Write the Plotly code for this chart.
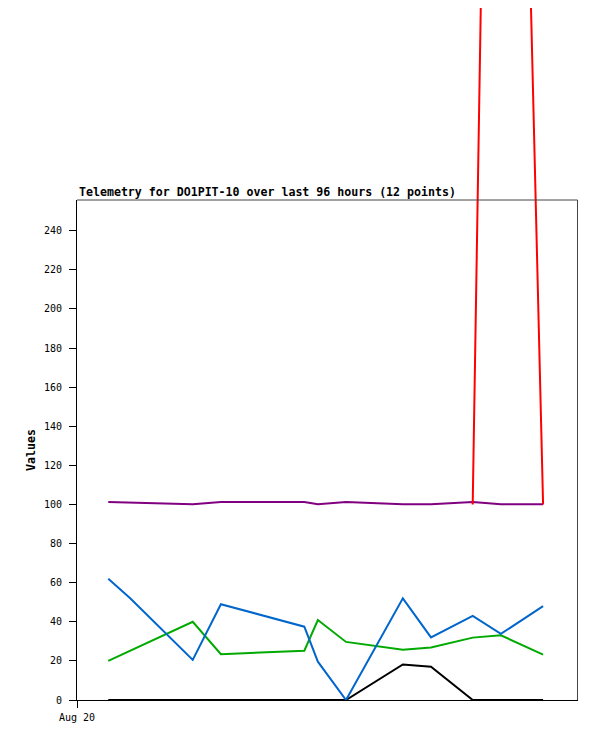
import plotly.graph_objects as go

# hours since Aug 20 00:00
hours = [6, 10.2, 22.2, 27.6, 43.6, 46.2, 51.6, 62.5, 67.9, 75.9, 81.3, 89.4]
purple = [101.3, 100.9, 100.1, 101.3, 101.3, 100.1, 101.2, 100.1, 100.1, 101.2, 100.1, 100.1]
blue = [62, 52, 20.5, 49, 37.5, 19.6, 0, 52, 32, 43, 33.8, 48]
green = [20, 25.1, 40, 23.4, 25.2, 40.9, 29.7, 25.7, 26.8, 31.9, 33.1, 23.2]
black = [0, 0, 0, 0, 0, 0, 0, 18.2, 17, 0, 0, 0]
red = [None, None, None, None, None, None, None, None, None, 100, 987, 100]

title = "Telemetry for DO1PIT-10 over last 96 hours (12 points)"
y_title = "Values"
y_ticks = [0, 20, 40, 60, 80, 100, 120, 140, 160, 180, 200, 220, 240]
x_tickvals = [0]
x_ticktext = ["Aug 20"]

# page has an 8px body margin; work in paper coordinates
O = 8
W, H = 597 - 2 * O, 741 - 2 * O
L, R, T, B = 77 - O, 577.5 - O, 200 - O, 700 - O
YMAX = 255.7
XMAX = 96
ppu = (B - T) / YMAX

FONT = "DejaVu Sans Mono"

fig = go.Figure()
fig.add_trace(go.Scatter(x=hours, y=red, mode="lines", line=dict(color="#ff0000", width=2),
                         xaxis="x2", yaxis="y2", connectgaps=False, hoverinfo="skip"))
fig.add_trace(go.Scatter(x=hours, y=purple, mode="lines", line=dict(color="#800080", width=2)))
fig.add_trace(go.Scatter(x=hours, y=black, mode="lines", line=dict(color="#000000", width=2)))
fig.add_trace(go.Scatter(x=hours, y=green, mode="lines", line=dict(color="#00aa00", width=2)))
fig.add_trace(go.Scatter(x=hours, y=blue, mode="lines", line=dict(color="#0066cc", width=2)))

fig.update_layout(
    width=W, height=H, autosize=False,
    margin=dict(l=0, r=0, t=0, b=0, pad=0, autoexpand=False),
    paper_bgcolor="white", plot_bgcolor="rgba(0,0,0,0)",
    showlegend=False,
    font=dict(family=FONT, size=10, color="black"),
    xaxis=dict(domain=[L / W, R / W], range=[0, XMAX], showgrid=False, zeroline=False,
               showline=True, linecolor="black", linewidth=1, automargin=False,
               ticks="outside", ticklen=7, tickcolor="black",
               tickvals=x_tickvals, ticktext=x_ticktext, tickfont=dict(family=FONT, size=10),
               ticklabelstandoff=1,
               anchor="y"),
    yaxis=dict(domain=[(H - B) / H, (H - T) / H], range=[0, YMAX], showgrid=False, zeroline=False,
               showline=True, linecolor="black", linewidth=1, automargin=False,
               ticks="outside", ticklen=7, tickcolor="black",
               tickvals=y_ticks, tickfont=dict(family=FONT, size=10),
               ticklabelstandoff=5,
               anchor="x"),
    xaxis2=dict(domain=[L / W, R / W], range=[0, XMAX], visible=False, anchor="y2", automargin=False),
    yaxis2=dict(domain=[0, 1], range=[(B - H) / ppu, B / ppu], visible=False, anchor="x2", automargin=False),
    shapes=[
        dict(type="line", xref="paper", yref="paper", x0=L / W, x1=R / W, y0=(H - T) / H, y1=(H - T) / H,
             line=dict(color="#444444", width=1)),
        dict(type="line", xref="paper", yref="paper", x0=R / W, x1=R / W, y0=(H - T) / H, y1=(H - B) / H,
             line=dict(color="#444444", width=1)),
    ],
    annotations=[
        dict(text="<b>" + title + "</b>", xref="paper", yref="paper", x=L / W, y=(H - T - 1) / H,
             xanchor="left", yanchor="bottom", showarrow=False,
             font=dict(family=FONT, size=11.6, color="black")),
        dict(text="<b>" + y_title + "</b>", xref="paper", yref="paper", x=(31 - O) / W, y=(H - (450 - O)) / H,
             xanchor="center", yanchor="middle", textangle=-90, showarrow=False,
             font=dict(family=FONT, size=11.6, color="black")),
    ],
)

fig.write_html("out.html")
